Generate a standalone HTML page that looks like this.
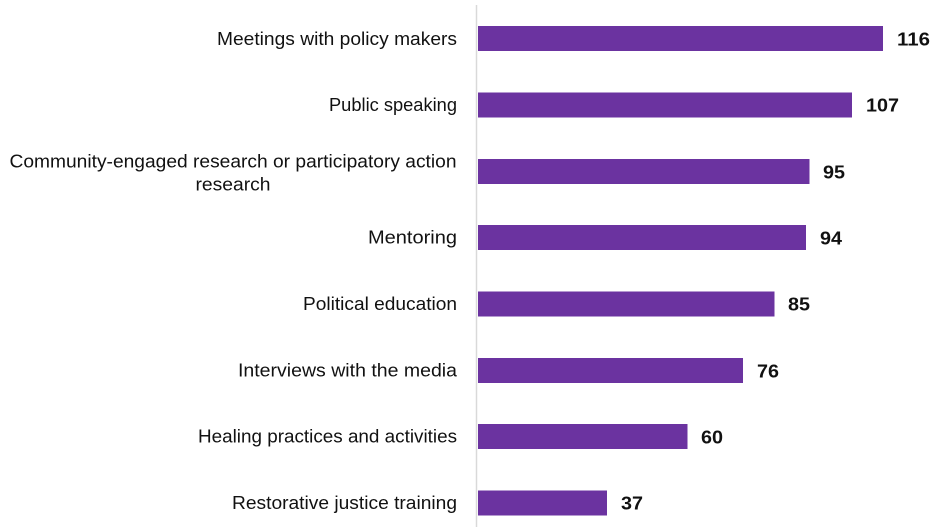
<!DOCTYPE html>
<html><head><meta charset="utf-8"><style>
html,body{margin:0;padding:0;background:#fff;}
svg{display:block;}
text{font-family:"Liberation Sans",sans-serif;fill:#111;}
</style></head><body>
<svg width="938" height="527" viewBox="0 0 938 527" xmlns="http://www.w3.org/2000/svg">
<line x1="476.5" y1="5" x2="476.5" y2="527" stroke="#d9d9d9" stroke-width="1.5"/>
<g fill="#6b33a0">
<rect x="478" y="26" width="405" height="25"/>
<rect x="478" y="92.5" width="374" height="25"/>
<rect x="478" y="159" width="331.5" height="25"/>
<rect x="478" y="225" width="328" height="25"/>
<rect x="478" y="291.5" width="296.5" height="25"/>
<rect x="478" y="358" width="265" height="25"/>
<rect x="478" y="424" width="209.5" height="25"/>
<rect x="478" y="490.5" width="129" height="25"/>
</g>
<g font-size="18" text-anchor="end">
<text x="457" y="45" textLength="240" lengthAdjust="spacingAndGlyphs">Meetings with policy makers</text>
<text x="457" y="111" textLength="128" lengthAdjust="spacingAndGlyphs">Public speaking</text>
<text x="457" y="243.5" textLength="89" lengthAdjust="spacingAndGlyphs">Mentoring</text>
<text x="457" y="310" textLength="154" lengthAdjust="spacingAndGlyphs">Political education</text>
<text x="457" y="376.5" textLength="219" lengthAdjust="spacingAndGlyphs">Interviews with the media</text>
<text x="457" y="442.5" textLength="259" lengthAdjust="spacingAndGlyphs">Healing practices and activities</text>
<text x="457" y="509" textLength="225" lengthAdjust="spacingAndGlyphs">Restorative justice training</text>
</g>
<g font-size="18" text-anchor="middle">
<text x="233" y="167.5" textLength="447" lengthAdjust="spacingAndGlyphs">Community-engaged research or participatory action</text>
<text x="233" y="190.5" textLength="75" lengthAdjust="spacingAndGlyphs">research</text>
</g>
<g font-size="18.5" font-weight="bold">
<text x="897" y="45.5" textLength="33" lengthAdjust="spacingAndGlyphs">116</text>
<text x="866" y="111.5" textLength="33" lengthAdjust="spacingAndGlyphs">107</text>
<text x="823" y="178.5" textLength="22" lengthAdjust="spacingAndGlyphs">95</text>
<text x="820" y="244.5" textLength="22" lengthAdjust="spacingAndGlyphs">94</text>
<text x="788" y="310.5" textLength="22" lengthAdjust="spacingAndGlyphs">85</text>
<text x="757" y="377.5" textLength="22" lengthAdjust="spacingAndGlyphs">76</text>
<text x="701" y="443.5" textLength="22" lengthAdjust="spacingAndGlyphs">60</text>
<text x="621" y="509.5" textLength="22" lengthAdjust="spacingAndGlyphs">37</text>
</g>
</svg>
</body></html>
